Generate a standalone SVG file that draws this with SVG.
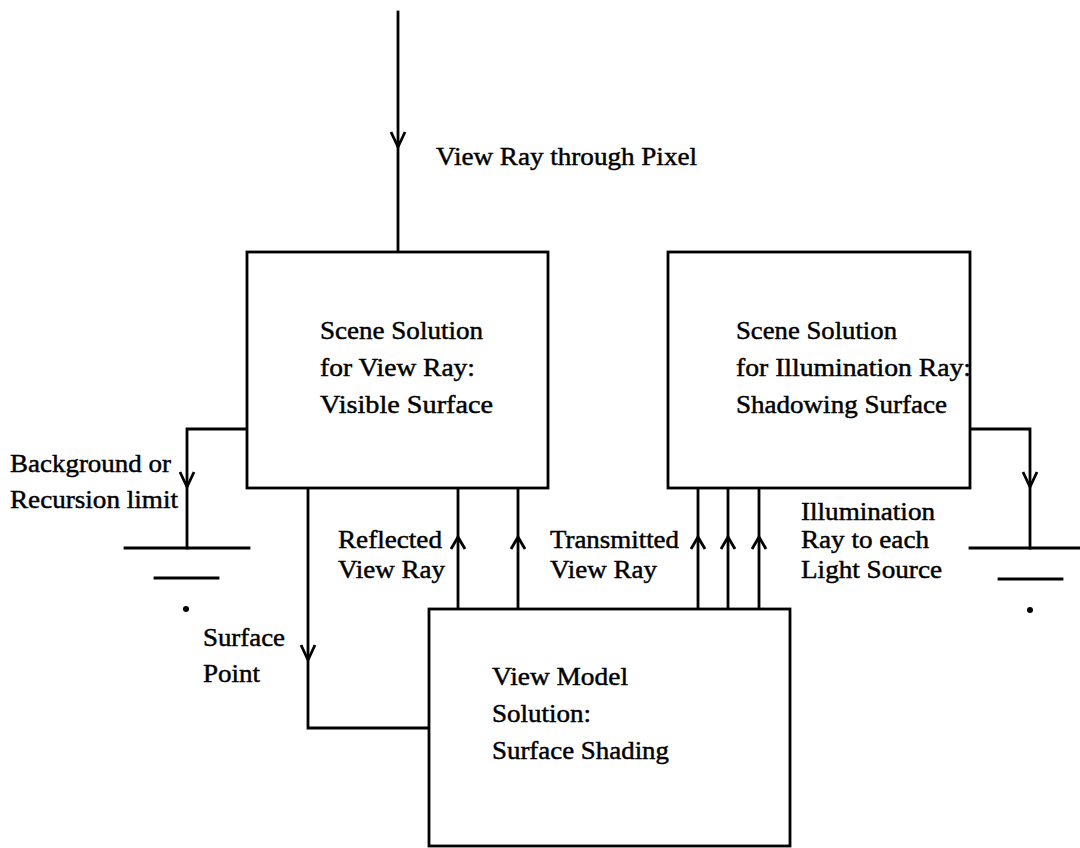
<svg xmlns="http://www.w3.org/2000/svg" xmlns:xlink="http://www.w3.org/1999/xlink" width="1080" height="848" viewBox="0 0 1080 848">
<style>
  .box { fill: #fff; stroke: #000; stroke-width: 2.8; }
  .ln { fill: none; stroke: #000; stroke-width: 2.8; stroke-linecap: square; }
  .ah { fill: none; stroke: #000; stroke-width: 2.8; stroke-linejoin: round; }
  text { font-family: "Liberation Serif", "Times New Roman", serif; font-size: 25px; fill: #000; stroke: #000; stroke-width: 0.45; }
</style>
<defs>
  <path id="arrowDown" class="ah" d="M-7,-15 L0,0 L7,-15"/>
  <path id="arrowUp" class="ah" d="M-7,12 L0,0 L7,12"/>
</defs>
<rect width="1080" height="848" fill="#fff"/>

<g id="connectors">
  <line class="ln" x1="398" y1="12" x2="398" y2="252"/>
  <use xlink:href="#arrowDown" x="398" y="147"/>
  <polyline class="ln" points="247,429 187,429 187,548"/>
  <use xlink:href="#arrowDown" x="187" y="487"/>
  <line class="ln" x1="125" y1="548" x2="249" y2="548"/>
  <line class="ln" x1="155" y1="578" x2="218" y2="578"/>
  <circle cx="186" cy="609" r="3" fill="#000"/>
  <polyline class="ln" points="970,429 1030,429 1030,548"/>
  <use xlink:href="#arrowDown" x="1030" y="487"/>
  <line class="ln" x1="970" y1="548" x2="1080" y2="548"/>
  <line class="ln" x1="999" y1="579" x2="1062" y2="579"/>
  <circle cx="1030" cy="610" r="3" fill="#000"/>
  <polyline class="ln" points="308,488 308,728 429,728"/>
  <use xlink:href="#arrowDown" x="308" y="660"/>
  <line class="ln" x1="458" y1="488" x2="458" y2="609"/>
  <use xlink:href="#arrowUp" x="458" y="537"/>
  <line class="ln" x1="518" y1="488" x2="518" y2="609"/>
  <use xlink:href="#arrowUp" x="518" y="537"/>
  <line class="ln" x1="698" y1="488" x2="698" y2="609"/>
  <use xlink:href="#arrowUp" x="698" y="537"/>
  <line class="ln" x1="728" y1="488" x2="728" y2="609"/>
  <use xlink:href="#arrowUp" x="728" y="537"/>
  <line class="ln" x1="759" y1="488" x2="759" y2="609"/>
  <use xlink:href="#arrowUp" x="759" y="537"/>
</g>

<g id="labels">
  <text x="436" y="165" textLength="261" lengthAdjust="spacingAndGlyphs">View Ray through Pixel</text>
  <text x="10" y="472" textLength="161" lengthAdjust="spacingAndGlyphs">Background or</text>
  <text x="10" y="508" textLength="168" lengthAdjust="spacingAndGlyphs">Recursion limit</text>
  <text x="338" y="548" textLength="104" lengthAdjust="spacingAndGlyphs">Reflected</text>
  <text x="338" y="578" textLength="107" lengthAdjust="spacingAndGlyphs">View Ray</text>
  <text x="550" y="548" textLength="129" lengthAdjust="spacingAndGlyphs">Transmitted</text>
  <text x="550" y="578" textLength="107" lengthAdjust="spacingAndGlyphs">View Ray</text>
  <text x="801" y="520" textLength="134" lengthAdjust="spacingAndGlyphs">Illumination</text>
  <text x="801" y="548" textLength="128" lengthAdjust="spacingAndGlyphs">Ray to each</text>
  <text x="801" y="578" textLength="141" lengthAdjust="spacingAndGlyphs">Light Source</text>
  <text x="203" y="646" textLength="82" lengthAdjust="spacingAndGlyphs">Surface</text>
  <text x="203" y="682" textLength="57" lengthAdjust="spacingAndGlyphs">Point</text>
</g>

<g id="scene-view">
  <rect class="box" x="247" y="252" width="301" height="236"/>
  <text x="320" y="339" textLength="163" lengthAdjust="spacingAndGlyphs">Scene Solution</text>
  <text x="320" y="376" textLength="155" lengthAdjust="spacingAndGlyphs">for View Ray:</text>
  <text x="320" y="413" textLength="173" lengthAdjust="spacingAndGlyphs">Visible Surface</text>
</g>

<g id="scene-illum">
  <rect class="box" x="668" y="252" width="302" height="236"/>
  <text x="736" y="339" textLength="161" lengthAdjust="spacingAndGlyphs">Scene Solution</text>
  <text x="736" y="376" textLength="235" lengthAdjust="spacingAndGlyphs">for Illumination Ray:</text>
  <text x="736" y="413" textLength="211" lengthAdjust="spacingAndGlyphs">Shadowing Surface</text>
</g>

<g id="view-model">
  <rect class="box" x="429" y="609" width="361" height="237"/>
  <text x="492" y="685" textLength="136" lengthAdjust="spacingAndGlyphs">View Model</text>
  <text x="492" y="722" textLength="99" lengthAdjust="spacingAndGlyphs">Solution:</text>
  <text x="492" y="759" textLength="177" lengthAdjust="spacingAndGlyphs">Surface Shading</text>
</g>
</svg>
